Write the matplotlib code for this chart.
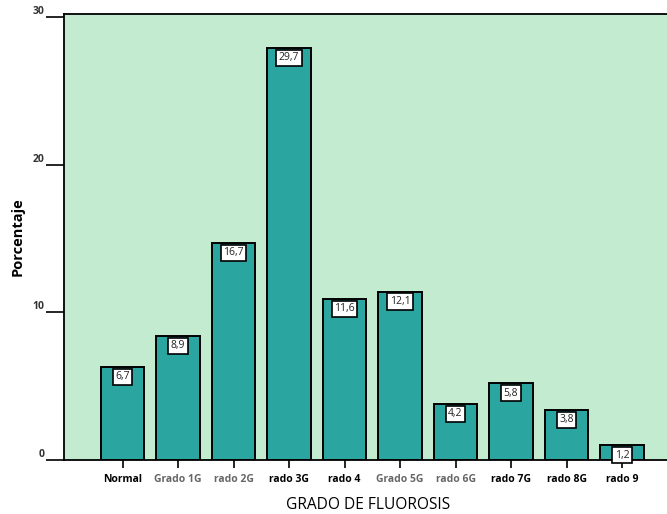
import matplotlib.pyplot as plt
import numpy as np

# data
categorias = ['Normal', 'Grado 1G', 'rado 2G', 'rado 3G', 'rado 4',
              'Grado 5G', 'rado 6G', 'rado 7G', 'rado 8G', 'rado 9']
alturas = [6.3, 8.4, 14.7, 27.9, 10.9, 11.4, 3.8, 5.2, 3.4, 1.0]
etiquetas = ['6,7', '8,9', '16,7', '29,7', '11,6', '12,1', '4,2', '5,8', '3,8', '1,2']
colores_txt = ['black', '#666666', '#666666', 'black', 'black',
               '#666666', '#666666', 'black', 'black', 'black']
yticks = [0, 10, 20, 30]

plt.rcParams['font.family'] = ['Open Sans', 'DejaVu Sans']

fig = plt.figure(figsize=(6.67, 5.14), dpi=100)
ax = fig.add_axes([64/667, 54/514, (672-64)/667, 446/514])
ax.set_facecolor('#c2ebcf')

x = np.arange(len(categorias))
ax.bar(x, alturas, width=0.78, color='#2ba5a0', edgecolor='black', lw=1.4, zorder=2)

for xi, h, t in zip(x, alturas, etiquetas):
    ax.text(xi, h - 0.3, t, ha='center', va='top', fontsize=7.5,
            color='#222222', zorder=3,
            bbox=dict(boxstyle='square,pad=0.25', fc='white', ec='black', lw=1.2))

ax.set_xlim(-1.054, 9.9)
ax.set_ylim(0, 30.2)

ax.set_xticks(x)
ax.set_xticklabels(categorias, fontsize=7.5, fontweight='bold')
for lab, c in zip(ax.get_xticklabels(), colores_txt):
    lab.set_color(c)
ax.tick_params(axis='x', length=6, width=1.2, pad=4)

ax.set_yticks(yticks)
ax.set_yticklabels([str(v) for v in yticks], fontsize=7.5, fontweight='bold',
                   color='#333333', va='bottom')
ax.tick_params(axis='y', length=13, width=1.2, pad=1)

for s in ['left', 'top', 'bottom']:
    ax.spines[s].set_linewidth(1.3)
ax.spines['right'].set_visible(False)

ax.set_ylabel('Porcentaje', fontsize=10.5, fontweight='bold', labelpad=6)
ax.set_xlabel('GRADO DE FLUOROSIS', fontsize=11.2, labelpad=9)

plt.savefig('out.png', dpi=100)
